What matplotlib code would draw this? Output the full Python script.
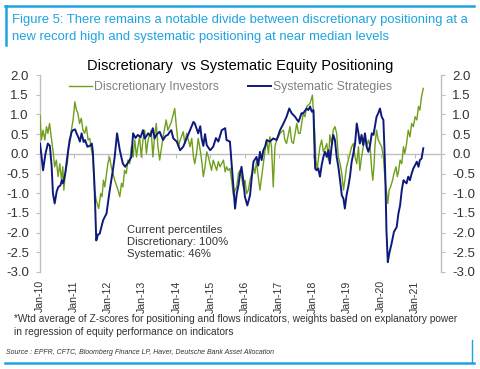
import numpy as np
import matplotlib as mpl
import matplotlib.pyplot as plt
from matplotlib.lines import Line2D

mpl.rcParams["font.family"] = ["Liberation Sans", "DejaVu Sans"]

# --- data (decimal years, z-scores) ---
disc_year = [2010.00, 2010.04, 2010.09, 2010.14, 2010.19, 2010.23, 2010.28, 2010.33, 2010.38, 2010.43,
             2010.48, 2010.53, 2010.58, 2010.63, 2010.67, 2010.70, 2010.74, 2010.80, 2010.84, 2010.89,
             2010.92, 2010.97, 2011.00, 2011.02, 2011.07, 2011.11, 2011.16, 2011.21, 2011.26, 2011.31,
             2011.36, 2011.41, 2011.46, 2011.51, 2011.55, 2011.60, 2011.65, 2011.72, 2011.78, 2011.82,
             2011.86, 2011.90, 2011.95, 2011.99, 2012.04, 2012.09, 2012.14, 2012.19, 2012.29, 2012.34,
             2012.39, 2012.43, 2012.48, 2012.53, 2012.58, 2012.63, 2012.68, 2012.73, 2012.78, 2012.83,
             2012.87, 2012.92, 2012.97, 2013.02, 2013.07, 2013.12, 2013.17, 2013.26, 2013.31, 2013.36,
             2013.41, 2013.46, 2013.51, 2013.61, 2013.70, 2013.75, 2013.85, 2013.95, 2014.01, 2014.06,
             2014.11, 2014.20, 2014.25, 2014.30, 2014.40, 2014.45, 2014.50, 2014.54, 2014.59, 2014.64,
             2014.69, 2014.74, 2014.79, 2014.84, 2014.89, 2014.94, 2015.03, 2015.08, 2015.18, 2015.23,
             2015.28, 2015.38, 2015.43, 2015.47, 2015.52, 2015.57, 2015.62, 2015.67, 2015.72, 2015.77,
             2015.82, 2015.86, 2015.91, 2015.96, 2016.01, 2016.06, 2016.11, 2016.16, 2016.21, 2016.26,
             2016.30, 2016.35, 2016.40, 2016.45, 2016.50, 2016.55, 2016.60, 2016.65, 2016.70, 2016.74,
             2016.79, 2016.84, 2016.89, 2016.94, 2016.99, 2017.04, 2017.14, 2017.18, 2017.23, 2017.33,
             2017.38, 2017.43, 2017.53, 2017.58, 2017.63, 2017.72, 2017.77, 2017.82, 2017.92, 2017.99,
             2018.02, 2018.06, 2018.09, 2018.13, 2018.17, 2018.21, 2018.26, 2018.31, 2018.36, 2018.41,
             2018.46, 2018.50, 2018.55, 2018.60, 2018.65, 2018.70, 2018.75, 2018.80, 2018.85, 2018.90,
             2018.94, 2018.99, 2019.04, 2019.09, 2019.14, 2019.19, 2019.24, 2019.29, 2019.34, 2019.38,
             2019.43, 2019.48, 2019.53, 2019.58, 2019.63, 2019.68, 2019.73, 2019.76, 2019.80, 2019.82,
             2019.87, 2019.92, 2019.97, 2020.02, 2020.07, 2020.12, 2020.17, 2020.20, 2020.24, 2020.28,
             2020.34, 2020.38, 2020.44, 2020.48, 2020.52, 2020.56, 2020.61, 2020.66, 2020.70, 2020.75,
             2020.80, 2020.85, 2020.90, 2020.95, 2021.00, 2021.05, 2021.10, 2021.14, 2021.19, 2021.24]
disc_val = [0.98, 0.35, 0.60, 0.35, 0.69, 0.52, 0.77, 0.43, 0.09, -0.33,
            -0.16, -0.58, -0.25, -0.67, -0.33, -0.92, -0.50, -0.25, 0.18, 0.35,
            0.60, 0.86, 1.11, 1.32, 1.11, 1.03, 0.77, 0.90, 0.60, 0.52,
            0.69, 0.35, 0.39, 0.09, -0.08, -0.92, -1.18, -1.39, -1.01, -1.09,
            -0.67, -0.84, -0.50, -0.25, -0.08, -0.33, -0.50, -0.67, -0.92, -1.09,
            -0.75, -0.84, -0.42, -0.50, -0.16, -0.25, 0.18, -0.08, 0.35, -0.08,
            0.18, 0.43, -0.08, 0.35, 0.60, 0.01, 0.35, 0.60, -0.08, 0.43,
            0.77, 0.18, -0.16, 0.43, 0.86, 0.60, 0.80, 1.15, 0.60, 0.18,
            0.35, 0.56, 0.26, 0.52, 0.18, 0.39, -0.08, -0.25, 0.01, 0.39,
            0.14, -0.16, -0.58, -0.33, 0.05, -0.08, -0.42, -0.16, -0.42, -0.20,
            -0.33, -0.16, -0.46, -0.33, -0.42, -0.37, -0.67, -1.05, -0.92, -0.84,
            -0.50, -0.42, -0.58, -0.84, -0.67, -1.01, -0.92, -0.67, -0.50, -0.33,
            -0.50, -0.20, -0.58, -0.92, -0.58, -0.25, 0.09, 0.35, 0.01, 0.43,
            0.18, -0.84, 0.18, 0.35, 0.43, 0.52, 0.60, 0.35, 0.26, 0.69,
            0.31, 0.26, 0.77, 0.52, 0.52, 1.03, 0.94, 1.20, 1.28, 1.49,
            1.03, 0.52, -0.16, -0.40, -0.08, 0.18, 0.35, 0.05, 0.14, 0.26,
            -0.16, 0.48, 0.26, 0.60, 0.69, 0.52, -0.08, -0.25, -0.50, -0.92,
            -0.67, -0.33, -0.16, 0.01, 0.18, 0.26, -0.08, -0.25, 0.18, -0.42,
            -0.08, 0.18, 0.48, 0.18, 0.35, 0.18, -0.42, -0.67, -0.25, 0.18,
            0.60, 0.35, 0.26, 0.18, -0.08, -0.67, -1.01, -1.26, -0.92, -0.84,
            -0.67, -0.50, -0.33, -0.58, -0.42, -0.16, -0.25, 0.18, 0.01, 0.26,
            0.60, 0.43, 0.77, 0.69, 0.94, 0.86, 1.20, 1.11, 1.45, 1.66]

sys_year = [2010.00, 2010.05, 2010.09, 2010.16, 2010.23, 2010.29, 2010.34, 2010.38, 2010.43, 2010.49,
            2010.54, 2010.60, 2010.64, 2010.68, 2010.74, 2010.80, 2010.87, 2010.93, 2010.97, 2011.03,
            2011.07, 2011.12, 2011.17, 2011.22, 2011.28, 2011.32, 2011.39, 2011.46, 2011.52, 2011.55,
            2011.60, 2011.65, 2011.70, 2011.75, 2011.80, 2011.85, 2011.90, 2011.95, 2011.99, 2012.04,
            2012.09, 2012.14, 2012.19, 2012.26, 2012.30, 2012.34, 2012.39, 2012.43, 2012.50, 2012.56,
            2012.63, 2012.68, 2012.73, 2012.80, 2012.87, 2012.95, 2013.02, 2013.07, 2013.12, 2013.17,
            2013.24, 2013.31, 2013.36, 2013.43, 2013.51, 2013.56, 2013.61, 2013.68, 2013.75, 2013.80,
            2013.85, 2013.91, 2014.01, 2014.11, 2014.20, 2014.30, 2014.40, 2014.50, 2014.54, 2014.64,
            2014.70, 2014.74, 2014.79, 2014.84, 2014.89, 2014.99, 2015.08, 2015.16, 2015.23, 2015.33,
            2015.43, 2015.47, 2015.57, 2015.62, 2015.67, 2015.72, 2015.77, 2015.82, 2015.86, 2015.91,
            2015.96, 2016.01, 2016.08, 2016.16, 2016.21, 2016.26, 2016.35, 2016.40, 2016.45, 2016.50,
            2016.55, 2016.60, 2016.65, 2016.74, 2016.84, 2016.94, 2017.04, 2017.14, 2017.23, 2017.31,
            2017.38, 2017.48, 2017.58, 2017.67, 2017.72, 2017.82, 2017.87, 2017.92, 2017.97, 2018.02,
            2018.04, 2018.07, 2018.11, 2018.16, 2018.21, 2018.26, 2018.31, 2018.36, 2018.41, 2018.46,
            2018.50, 2018.55, 2018.60, 2018.65, 2018.70, 2018.75, 2018.80, 2018.85, 2018.90, 2018.94,
            2018.99, 2019.04, 2019.09, 2019.14, 2019.19, 2019.24, 2019.29, 2019.34, 2019.38, 2019.43,
            2019.48, 2019.53, 2019.58, 2019.63, 2019.68, 2019.73, 2019.78, 2019.82, 2019.87, 2019.92,
            2019.97, 2020.02, 2020.07, 2020.10, 2020.13, 2020.16, 2020.20, 2020.24, 2020.31, 2020.38,
            2020.46, 2020.51, 2020.56, 2020.61, 2020.66, 2020.70, 2020.75, 2020.80, 2020.85, 2020.90,
            2020.95, 2021.00, 2021.05, 2021.10, 2021.14, 2021.19, 2021.24]
sys_val = [0.26, -0.10, -0.42, 0.00, 0.26, 0.20, -0.30, -1.01, -1.26, -0.95,
           -0.84, -0.80, -0.67, -0.75, -0.50, -0.08, 0.35, 0.56, 0.60, 0.62,
           0.52, 0.43, 0.31, 0.52, 0.30, 0.35, 0.18, 0.20, 0.26, 0.05,
           -0.84, -2.20, -2.05, -2.03, -1.86, -1.69, -1.60, -1.52, -1.26, -0.95,
           -0.67, -0.40, -0.08, 0.52, 0.30, 0.09, -0.10, -0.25, -0.33, -0.25,
           -0.16, -0.08, 0.52, 0.40, 0.48, 0.42, 0.60, 0.39, 0.45, 0.52,
           0.45, 0.65, 0.39, 0.50, 0.56, 0.45, 0.35, 0.45, 0.48, 0.55,
           0.60, 0.39, 0.31, 0.09, 0.18, 0.39, 0.60, 0.81, 0.77, 0.52,
           0.70, 0.39, 0.20, 0.50, 0.22, 0.09, 0.18, 0.40, 0.31, 0.60,
           0.65, 0.35, 0.31, -0.25, -0.84, -1.39, -1.01, -0.80, -0.54, -0.33,
           -0.67, -1.09, -1.31, -1.05, -0.60, -0.20, -0.08, -0.30, 0.05, -0.16,
           0.09, 0.18, 0.35, 0.31, 0.39, 0.35, 0.60, 0.77, 0.94, 1.15,
           1.03, 0.94, 0.81, 1.03, 1.03, 1.15, 1.11, 1.20, 1.07, 1.11,
           0.43, -0.37, -0.42, -0.37, -0.58, -0.29, -0.08, 0.05, -0.08, 0.09,
           -0.25, 0.18, 0.48, 0.35, -0.08, -0.33, -0.67, -1.05, -1.14, -1.39,
           -1.05, -0.84, -0.58, -0.20, 0.01, 0.26, 0.77, 0.52, 0.26, 0.48,
           0.22, 0.52, 0.18, 0.05, 0.22, 0.52, 0.48, 0.69, 0.94, 1.03,
           1.15, 0.94, 0.86, 0.18, -0.67, -1.94, -2.75, -2.54, -2.28, -1.98,
           -1.86, -1.52, -1.31, -0.92, -0.67, -0.71, -0.75, -0.58, -0.67, -0.50,
           -0.37, -0.29, -0.20, -0.33, -0.16, -0.12, 0.14]

year_ticks = list(range(2010, 2022))
year_labels = ["Jan-%02d" % (y % 100) for y in year_ticks]
y_ticks = [2.0, 1.5, 1.0, 0.5, 0.0, -0.5, -1.0, -1.5, -2.0, -2.5, -3.0]

GREEN = "#6f9f1c"
NAVY = "#0d1a7c"
FRAME = "#1ea3e0"
GREY = "#bfbfbf"
TXT = "#333333"

fig = plt.figure(figsize=(4.8, 3.69), dpi=100)
ax = fig.add_axes([40 / 480, 1 - 272 / 369, 401 / 480, 197 / 369])

ax.plot(disc_year, disc_val, color=GREEN, lw=1.0, zorder=3, label="Discretionary Investors")
ax.plot(sys_year, sys_val, color=NAVY, lw=1.4, zorder=4, label="Systematic Strategies")

ax.set_xlim(2010.0, 2021.76)
ax.set_ylim(-3.0, 2.0)

# zero line carries the small year ticks, labels sit below the plot
ax.spines["top"].set_visible(False)
ax.spines["bottom"].set_position(("data", 0))
for s in ["bottom", "left", "right"]:
    ax.spines[s].set_color(GREY)
    ax.spines[s].set_linewidth(1.0)
ax.set_xticks(year_ticks)
ax.tick_params(axis="x", direction="out", length=3, color=GREY, labelbottom=False)

sec = ax.secondary_xaxis("bottom")
sec.set_xticks(year_ticks)
sec.set_xticklabels(year_labels, rotation=90, fontsize=7.6, color=TXT)
sec.tick_params(length=0, pad=6)
sec.spines["bottom"].set_visible(False)

ax.set_yticks(y_ticks)
ax.set_yticklabels(["%.1f" % v for v in y_ticks])
ax.tick_params(axis="y", direction="out", length=3, color=GREY, labelsize=9.5,
               labelcolor=TXT, left=True, right=True, labelleft=True, labelright=True, pad=5)

leg = ax.legend(loc="center", bbox_to_anchor=(0.475, 0.939), ncol=2, frameon=False,
                fontsize=8.8, handlelength=1.9, handletextpad=0.15, columnspacing=2.4,
                borderaxespad=0, borderpad=0)
for t in leg.get_texts():
    t.set_color("#808080")

ax.text(0.217, 0.238, "Current percentiles\nDiscretionary: 100%\nSystematic: 46%",
        transform=ax.transAxes, fontsize=8.1, color=TXT, va="top", ha="left", linespacing=1.22)

fig.text(0.5, 1 - 66 / 369, "Discretionary  vs Systematic Equity Positioning",
         ha="center", va="center", fontsize=10.5, color="black")

fig.text(12 / 480, 1 - 20 / 369,
         "Figure 5: There remains a notable divide between discretionary positioning at a",
         ha="left", va="center", fontsize=9.4, color=FRAME)
fig.text(12 / 480, 1 - 37 / 369,
         "new record high and systematic positioning at near median levels",
         ha="left", va="center", fontsize=9.4, color=FRAME)

fig.text(14 / 480, 1 - 319 / 369,
         "*Wtd average of Z-scores for positioning and flows indicators, weights based on explanatory power",
         ha="left", va="center", fontsize=7.3, color=TXT)
fig.text(14 / 480, 1 - 332 / 369,
         "in regression of equity performance on indicators",
         ha="left", va="center", fontsize=7.3, color=TXT)
fig.text(6 / 480, 1 - 352 / 369,
         "Source : EPFR, CFTC, Bloomberg Finance LP, Haver, Deutsche Bank Asset Allocation",
         ha="left", va="center", fontsize=5.05, style="italic", color=TXT)

# page frame
fig.add_artist(Line2D([5 / 480, 474 / 480], [1 - 6 / 369, 1 - 6 / 369], color=FRAME, lw=1.8))
fig.add_artist(Line2D([6 / 480, 6 / 480], [1 - 6 / 369, 1 - 45 / 369], color=FRAME, lw=1.8))
fig.add_artist(Line2D([5 / 480, 474 / 480], [1 - 363 / 369, 1 - 363 / 369], color=FRAME, lw=1.8))
fig.add_artist(Line2D([472 / 480, 472 / 480], [1 - 363 / 369, 1 - 340 / 369], color=FRAME, lw=1.0))

fig.savefig("out.png", dpi=100)
plt.close(fig)
